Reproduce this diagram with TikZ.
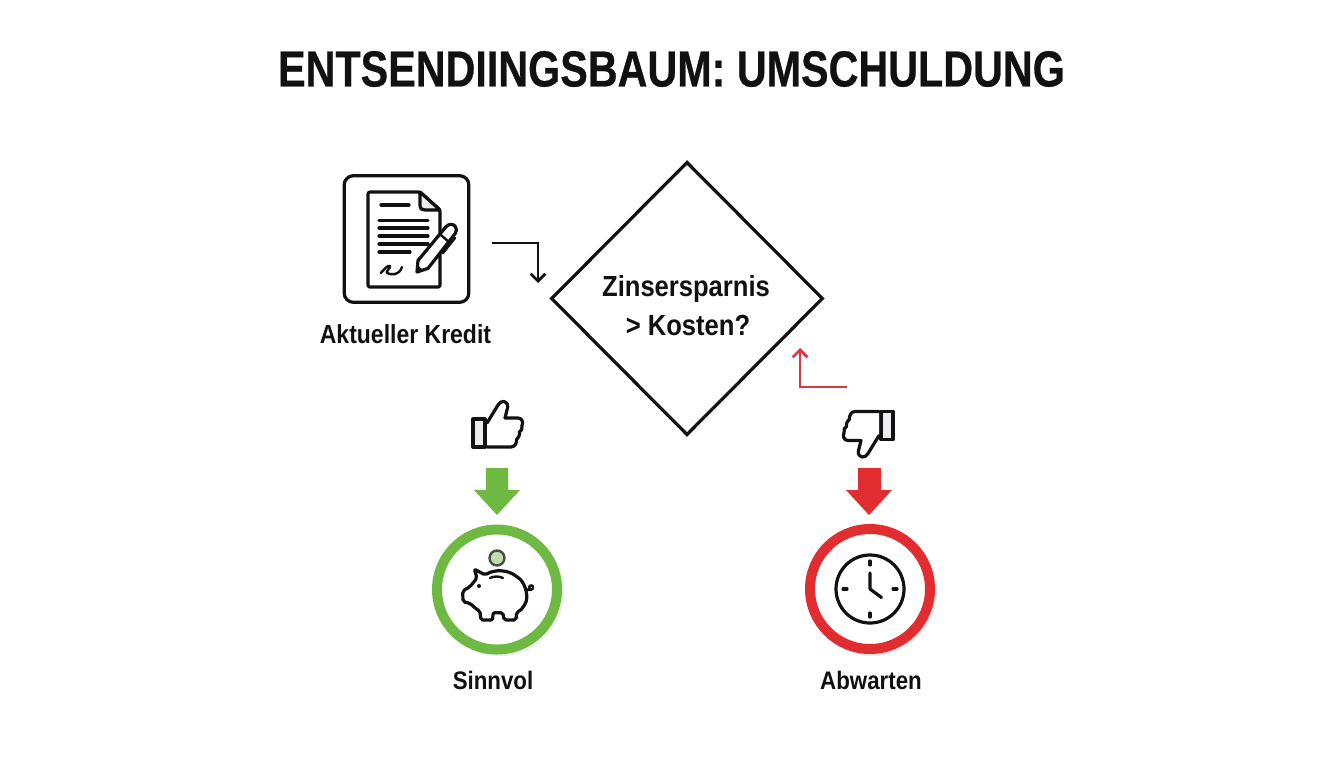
\documentclass[tikz,border=0pt]{standalone}
\usepackage{fontspec}
\setmainfont[FakeStretch=0.88]{Liberation Sans}
\newfontfamily\titlefont[FakeStretch=0.815,FakeBold=0.5]{Liberation Sans}
\usetikzlibrary{shapes.geometric,arrows.meta}
\definecolor{gr}{RGB}{110,185,65}
\definecolor{rd}{RGB}{226,45,48}
\definecolor{rdl}{RGB}{214,58,68}
\definecolor{ink}{RGB}{17,17,17}
\definecolor{softgrey}{RGB}{236,236,238}
\tikzset{
 icon/.style={draw=ink,line width=2.4pt,line join=round,line cap=round},
 thin icon/.style={draw=ink,line width=1.8pt,line join=round,line cap=round},
 lab/.style={font=\bfseries\fontsize{19pt}{23pt}\selectfont,text=ink,inner sep=0pt},
 dlab/.style={font=\bfseries\fontsize{21.8pt}{24pt}\selectfont,text=ink,inner sep=0pt},
 conn/.style={line width=2pt,-{Straight Barb[length=5.5pt,width=11pt,line width=2pt]}},
 bigarrow/.style={fill=#1,draw=none},
 thumbicon/.pic={
   \draw[icon,fill=softgrey] (-25,-5.5) rectangle (-13,22.5);
   \draw[icon,fill=white] (-11,-1.5) -- (0,-19.5) .. controls (3,-25) and (10,-24) .. (9.7,-17.5)
     -- (7,-6.5) -- (20,-6.5) .. controls (25,-6.5) and (25,-1) .. (24,1)
     .. controls (25,4) and (23,7) .. (21.5,7.5) .. controls (22,11) and (20,14) .. (18.5,15)
     .. controls (19,18) and (17,22.5) .. (13,22.5) -- (-11,22.5);
 }
}
\begin{document}
\begin{tikzpicture}[x=0.75pt,y=-0.75pt]
\useasboundingbox[fill=white] (0,0) rectangle (1344,768);
\node[inner sep=0pt,text=ink,font=\titlefont\bfseries\fontsize{38pt}{46pt}\selectfont] (title) at (671.5,69) {ENTSENDIINGSBAUM: UMSCHULDUNG};

% document card
\node[draw=ink,line width=2.4pt,rounded corners=7pt,minimum width=93.5pt,minimum height=95pt,inner sep=0pt] (card) at (406.5,239) {};
\draw[icon,rounded corners=1.5pt] (368,192) -- (420,192) -- (440,210) -- (440,287) -- (368,287) -- cycle;
\draw[icon,fill=softgrey] (420,192) -- (420,205) .. controls (420,209) and (422,210) .. (425,210) -- (440,210) -- cycle;
\foreach \yy/\xx in {205/409,220.5/428,228/428,236/428,244/428,252/410}
  \draw[icon] ({\yy==205 ? 381 : 379},\yy) -- (\xx,\yy);
\draw[thin icon] (380.7,273) .. controls (384,270) and (387,265) .. (390,266) .. controls (391,268) and (385,272) .. (387,273) .. controls (391,275) and (399,276) .. (402,267);
% pen
\draw[icon,fill=white] (417,272) -- (418,260.5) -- (446,226.7) .. controls (449,223.5) and (453,224) .. (455,226) .. controls (457,228.5) and (457,231.5) .. (455.2,233.5) -- (428,268.4) -- cycle;
\draw[thin icon] (440,234.3) -- (449,242);
\draw[thin icon] (455,238) -- (443,253);
\fill[ink] (417,272) -- (418,265.5) -- (423,270) -- cycle;
\node[lab,font=\bfseries\fontsize{19.6pt}{23pt}\selectfont] (kredit) at (405.5,334) {Aktueller Kredit};

% decision
\node[diamond,aspect=1,draw=ink,line width=2.4pt,minimum width=204pt,minimum height=205pt,inner sep=0pt] (dec) at (687,298.5) {};
\node[dlab] (dec1) at (686,288.5) {Zinsersparnis};
\node[dlab] (dec2) at (688,325) {> Kosten?};

\coordinate (a1) at (492,243);
\coordinate (a2) at (538,283);
\draw[conn,draw=ink] (a1) -| (a2);
\coordinate (b1) at (847,387);
\coordinate (b2) at (800,348);
\draw[conn,draw=rdl] (b1) -| (b2);

% thumbs
\pic at (498,424.5) {thumbicon};
\pic[rotate=180] at (868,434) {thumbicon};

% arrows
\fill[bigarrow=gr] (486,468) -- (508,468) -- (508,490) -- (520,490) -- (497,515) -- (474,490) -- (486,490) -- cycle;
\fill[bigarrow=rd] (858,468) -- (881,468) -- (881,490) -- (892,490) -- (869,515) -- (846,490) -- (858,490) -- cycle;

% result circles
\draw[softgrey,line width=6.8pt] (499.5,591.5) circle (60);
\draw[softgrey,line width=6.8pt] (872.5,591.5) circle (60);
\node[circle,draw=gr,line width=7.5pt,fill=white,minimum size=90pt,inner sep=0pt] (yes) at (497,589.5) {};
\node[circle,draw=rd,line width=7.5pt,fill=white,minimum size=90pt,inner sep=0pt] (no) at (870,589) {};

% coin
\draw[ink!75,line width=1.8pt,fill=gr!45!white] (497,558) circle (7.5);
% piggy
\draw[icon,rounded corners=1.5pt,fill=white] (474.3,569) -- (485,575) .. controls (495,569) and (508,570) .. (516.7,576.7)
  .. controls (525,582) and (530,598) .. (523,607) .. controls (521,610) and (519,611) .. (516.7,612)
  -- (516,620) -- (504,620) -- (503,612.7) -- (493,612.7) -- (492.7,620) -- (480.7,620) -- (480,611)
  .. controls (476,609) and (473,606) .. (470,603.3) -- (463,601.7) -- (462.7,591) -- (470,586.7) -- (477,578) -- cycle;
\draw[thin icon] (490,578) .. controls (494,576) and (499,576) .. (503,578);
\fill[ink] (479,586) circle (2);
\draw[thin icon] (526,589) .. controls (529,591) and (534,590) .. (533,586.5) .. controls (532,584) and (527,586) .. (530,589);
% clock
\draw[icon] (870,589) circle (34);
\draw[icon,rounded corners=0.5pt] (870,573) -- (870,589) -- (881.5,597.5);
\draw[icon] (870,561) -- (870,565) (870,613) -- (870,617) (843,589) -- (847,589) (893,589) -- (897,589);

\node[lab] (sinn) at (493,680) {Sinnvol};
\node[lab] (abw) at (871,680) {Abwarten};
\end{tikzpicture}
\end{document}
